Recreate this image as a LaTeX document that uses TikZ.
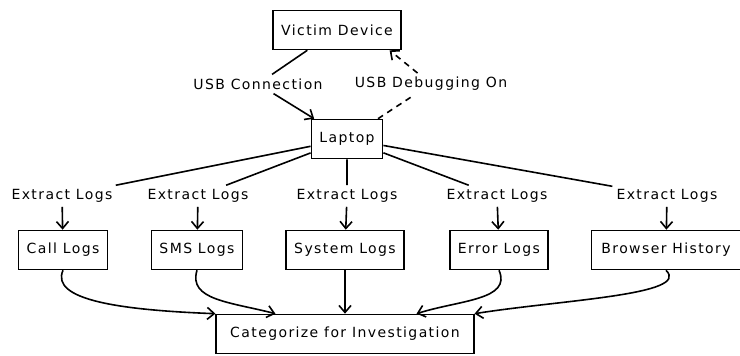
\documentclass[tikz,border=0pt]{standalone}
\usepackage{fontspec}
\setmainfont[LetterSpace=10]{DejaVu Sans}
\usetikzlibrary{arrows.meta}

\begin{document}
\begin{tikzpicture}[x=1pt,y=-1pt,font=\fontsize{14}{16}\selectfont,
  box/.style={draw, line width=1.6pt, inner xsep=8pt, minimum height=39pt},
  lbl/.style={inner sep=4pt},
  link/.style={line width=1.6pt},
  >={Straight Barb[length=7pt,width=12pt]}]
\useasboundingbox (0,0) rectangle (740,356);

\node[box] (victim) at (337,30) {Victim Device};
\node[box] (laptop) at (347,139) {Laptop};
\node[lbl] (usbconn) at (258,84) {USB Connection};
\node[lbl] (usbdebug) at (431,84) {USB Debugging On};

\node[lbl] (ex1) at (62,196) {Extract Logs};
\node[lbl] (ex2) at (198,196) {Extract Logs};
\node[lbl] (ex3) at (347,196) {Extract Logs};
\node[lbl] (ex4) at (497,196) {Extract Logs};
\node[lbl] (ex5) at (667,196) {Extract Logs};

\node[box] (call) at (63,250) {Call Logs};
\node[box] (sms) at (197,250) {SMS Logs};
\node[box] (system) at (345,250) {System Logs};
\node[box] (error) at (499,250) {Error Logs};
\node[box,inner xsep=10pt] (browser) at (666,250) {Browser History};

\node[box,inner xsep=14pt] (cat) at (345,334) {Categorize for Investigation};

% victim <-> laptop
\draw[link,->] (victim) -- (usbconn) -- (laptop);
\draw[link,dash pattern=on 6pt off 5pt,->] (laptop) -- (usbdebug) -- ([xshift=-12pt]victim.south east);

% laptop to the logs
\draw[link,->] (laptop) -- (ex1) -- (call);
\draw[link,->] (laptop) -- (ex2) -- (sms);
\draw[link,->] (laptop) -- (ex3) -- (system);
\draw[link,->] (laptop) -- (ex4) -- (error);
\draw[link,->] (laptop) -- (ex5) -- (browser);

% logs into categorize
\draw[link,->] (call.south) .. controls (50,300) and (120,310) .. (cat.north west);
\draw[link,->] (sms.south) .. controls (188,300) and (230,302) .. ([xshift=60pt]cat.north west);
\draw[link,->] (system) -- (cat);
\draw[link,->] (error.south) .. controls (512,300) and (460,300) .. ([xshift=-58pt]cat.north east);
\draw[link,->] (browser.south) .. controls (692,295) and (560,300) .. (cat.north east);
\end{tikzpicture}
\end{document}
